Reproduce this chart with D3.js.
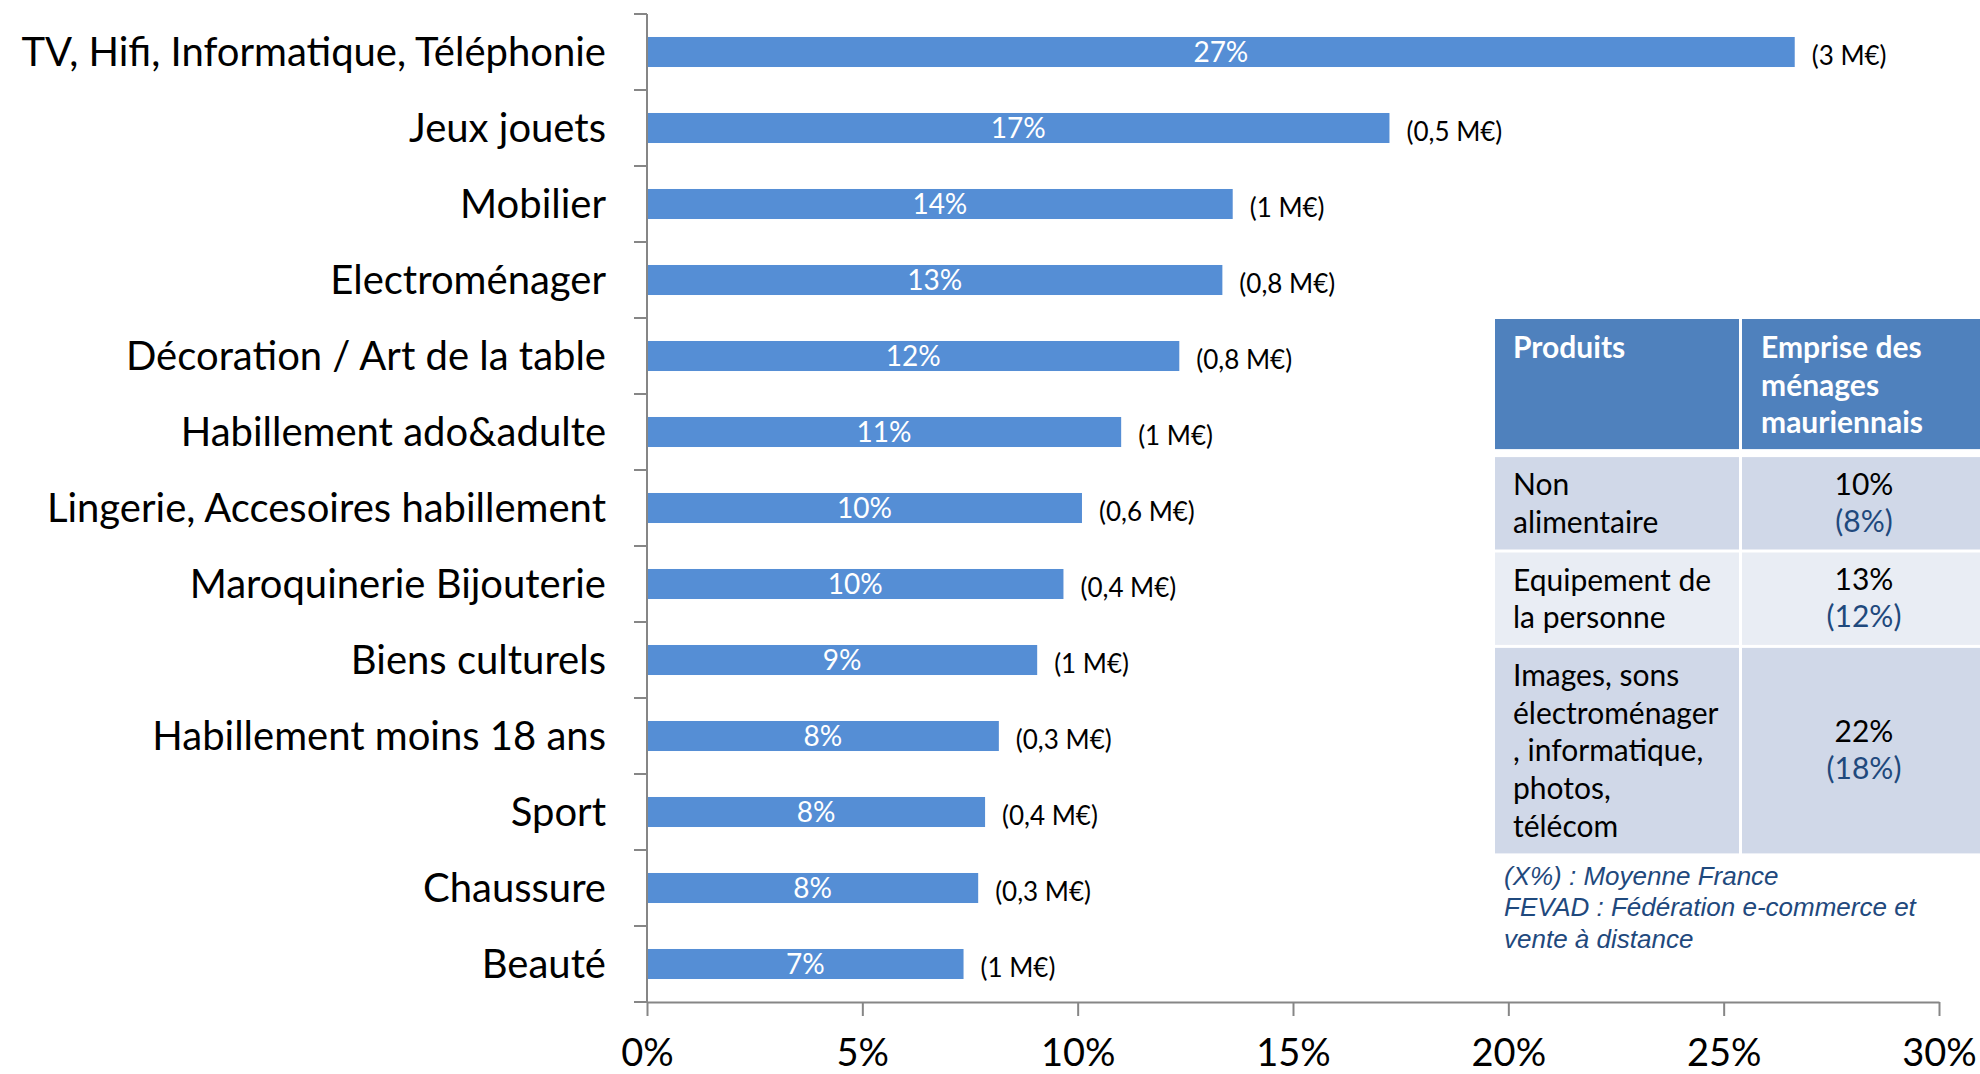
<!DOCTYPE html>
<html>
<head>
<meta charset="utf-8">
<script src="https://cdn.jsdelivr.net/npm/d3@7"></script>
<style>
  html, body { margin: 0; padding: 0; background: #ffffff; }
  svg { display: block; }
</style>
</head>
<body>
<svg id="chart" width="1980" height="1074"></svg>
<script>
// ---------- data ----------
const categories = [
  "TV, Hifi, Informatique, Téléphonie",
  "Jeux jouets",
  "Mobilier",
  "Electroménager",
  "Décoration / Art de la table",
  "Habillement ado&adulte",
  "Lingerie, Accesoires habillement",
  "Maroquinerie Bijouterie",
  "Biens culturels",
  "Habillement moins 18 ans",
  "Sport",
  "Chaussure",
  "Beauté"
];
const shares = [26.65, 17.24, 13.6, 13.36, 12.36, 11.01, 10.1, 9.67, 9.06, 8.17, 7.85, 7.69, 7.35];
const amounts = ["(3 M€)", "(0,5 M€)", "(1 M€)", "(0,8 M€)", "(0,8 M€)", "(1 M€)", "(0,6 M€)",
                 "(0,4 M€)", "(1 M€)", "(0,3 M€)", "(0,4 M€)", "(0,3 M€)", "(1 M€)"];
const xTicks = [0, 5, 10, 15, 20, 25, 30];

const tableHeader = [["Produits"], ["Emprise des", "ménages", "mauriennais"]];
const tableProducts = [
  ["Non", "alimentaire"],
  ["Equipement de", "la personne"],
  ["Images, sons", "électroménager", ", informatique,", "photos,", "télécom"]
];
const tableLocal = ["10%", "13%", "22%"];
const tableFrance = ["(8%)", "(12%)", "(18%)"];
const notes = ["(X%) : Moyenne France", "FEVAD : Fédération e-commerce et", "vente à distance"];

// ---------- chart ----------
const svg = d3.select("#chart");
svg.append("rect").attr("width", 1980).attr("height", 1074).attr("fill", "#fff");

const FONT = "Lato, 'Open Sans', sans-serif";
const axisColor = "#868686";
const barColor = "#558ED5";

const x = d3.scaleLinear().domain([0, 30]).range([647, 1939]);
const y = d3.scaleBand().domain(categories).range([14, 1002]).paddingInner(0.605).paddingOuter(0.3025);
const step = y.step();
const gapHalf = (step - y.bandwidth()) / 2;

// bars
svg.append("g").selectAll("rect").data(categories).join("rect")
  .attr("x", x(0))
  .attr("y", d => y(d))
  .attr("width", (d, i) => x(shares[i]) - x(0))
  .attr("height", y.bandwidth())
  .attr("fill", barColor);

// in-bar percentages
const fmt = d3.format(".0f");
svg.append("g").selectAll("text").data(categories).join("text")
  .attr("x", (d, i) => (x(0) + x(shares[i])) / 2)
  .attr("y", d => y(d) + y.bandwidth() / 2 + 10)
  .attr("text-anchor", "middle")
  .attr("font-family", FONT).attr("font-size", 28)
  .attr("fill", "#fff")
  .text((d, i) => fmt(shares[i]) + "%");

// amount labels
svg.append("g").selectAll("text").data(categories).join("text")
  .attr("x", (d, i) => x(shares[i]) + 17)
  .attr("y", d => y(d) + y.bandwidth() / 2 + 13)
  .attr("font-family", FONT).attr("font-size", 26)
  .attr("fill", "#000")
  .text((d, i) => amounts[i]);

// category labels
svg.append("g").selectAll("text").data(categories).join("text")
  .attr("x", 606)
  .attr("y", d => y(d) + y.bandwidth() / 2 + 14)
  .attr("text-anchor", "end")
  .attr("font-family", FONT).attr("font-size", 40)
  .attr("fill", "#000")
  .text(d => d);

// y axis line + ticks at band boundaries
const yAxisG = svg.append("g");
yAxisG.append("line")
  .attr("x1", x(0)).attr("x2", x(0))
  .attr("y1", y.range()[0]).attr("y2", y.range()[1])
  .attr("stroke", axisColor).attr("stroke-width", 2);
const boundaries = categories.map(c => y(c) - gapHalf).concat([y.range()[1]]);
yAxisG.selectAll("line.tick").data(boundaries).join("line")
  .attr("class", "tick")
  .attr("x1", x(0) - 13).attr("x2", x(0))
  .attr("y1", d => d).attr("y2", d => d)
  .attr("stroke", axisColor).attr("stroke-width", 2);

// x axis
const xAxis = d3.axisBottom(x).tickValues(xTicks).tickSize(14).tickSizeOuter(0)
  .tickFormat(d => d + "%");
const xg = svg.append("g").attr("transform", `translate(0,${y.range()[1]})`).call(xAxis);
xg.select(".domain").attr("stroke", axisColor).attr("stroke-width", 2);
xg.selectAll(".tick line").attr("stroke", axisColor).attr("stroke-width", 2);
xg.selectAll(".tick text")
  .attr("font-family", FONT).attr("font-size", 38)
  .attr("fill", "#000")
  .attr("y", 37);

// ---------- table ----------
const tbl = svg.append("g");
const tLeft = 1495, colDiv = 1739, colGap = 3, tRight = 1990;
const lineH = 37.7, padV = 17;
const headerTop = 319;
const headerH = d3.max(tableHeader, l => l.length) * lineH + padV;
const rowHeights = tableProducts.map(l => l.length * lineH + padV);
const rowTops = [];
let cur = headerTop + headerH + 8;
rowHeights.forEach(h => { rowTops.push(cur); cur += h + 3; });
const rowFills = ["#D0D8E8", "#E9EDF4", "#D0D8E8"];
const TFS = 30;

// header
tbl.append("rect").attr("x", tLeft).attr("y", headerTop)
  .attr("width", colDiv - tLeft).attr("height", headerH).attr("fill", "#4F81BD");
tbl.append("rect").attr("x", colDiv + colGap).attr("y", headerTop)
  .attr("width", tRight - colDiv - colGap).attr("height", headerH).attr("fill", "#4F81BD");
tableHeader.forEach((lines, ci) => {
  const tx = ci === 0 ? tLeft + 18 : colDiv + colGap + 19;
  tbl.append("text").attr("font-family", FONT).attr("font-size", TFS)
    .attr("font-weight", "bold").attr("fill", "#fff")
    .selectAll("tspan").data(lines).join("tspan")
    .attr("x", tx).attr("y", (d, i) => headerTop + 39 + i * lineH)
    .text(d => d);
});

// body rows
tableProducts.forEach((lines, ri) => {
  const top = rowTops[ri], h = rowHeights[ri];
  tbl.append("rect").attr("x", tLeft).attr("y", top)
    .attr("width", colDiv - tLeft).attr("height", h).attr("fill", rowFills[ri]);
  tbl.append("rect").attr("x", colDiv + colGap).attr("y", top)
    .attr("width", tRight - colDiv - colGap).attr("height", h).attr("fill", rowFills[ri]);
  tbl.append("text").attr("font-family", FONT).attr("font-size", TFS).attr("fill", "#000")
    .selectAll("tspan").data(lines).join("tspan")
    .attr("x", tLeft + 18).attr("y", (d, i) => top + 38 + i * lineH)
    .text(d => d);
  const cx = 1864, cy = top + h / 2;
  tbl.append("text").attr("x", cx).attr("y", cy - 8.5)
    .attr("text-anchor", "middle").attr("font-family", FONT).attr("font-size", TFS)
    .attr("fill", "#000").text(tableLocal[ri]);
  tbl.append("text").attr("x", cx).attr("y", cy + 28.5)
    .attr("text-anchor", "middle").attr("font-family", FONT).attr("font-size", TFS)
    .attr("fill", "#1F497D").text(tableFrance[ri]);
});

// footnotes
svg.append("text").attr("font-family", "'Liberation Sans', Arial, sans-serif")
  .attr("font-size", 26).attr("font-style", "italic").attr("fill", "#1F497D")
  .selectAll("tspan").data(notes).join("tspan")
  .attr("x", 1504).attr("y", (d, i) => 885 + i * 31.3)
  .text(d => d);
</script>
</body>
</html>
